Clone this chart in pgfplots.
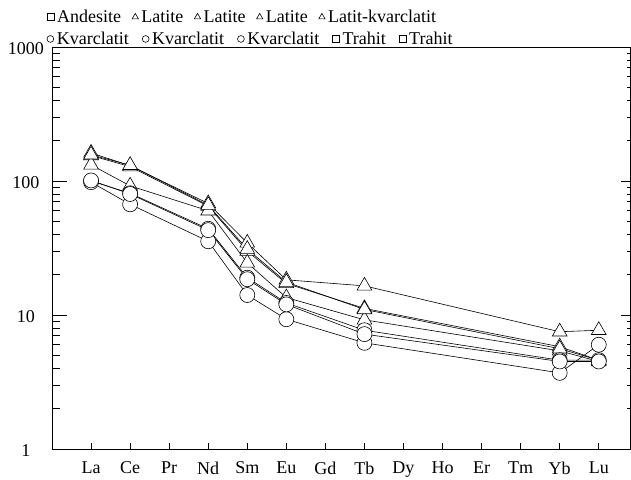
\documentclass[border=0pt]{standalone}
\usepackage{fontspec}
\setmainfont{Liberation Serif}
\usepackage{pgfplots}
\pgfplotsset{compat=1.18}
\pgfplotsset{
  tri/.style={black, line width=0.6pt, mark=triangle*, mark size=8.5pt, mark options={fill=white, draw=black, line width=0.6pt, solid}},
  cir/.style={black, line width=0.6pt, mark=*, mark size=7.5pt, mark options={fill=white, draw=black, line width=0.6pt, solid}},
  sqr/.style={black, line width=0.6pt, mark=square*, mark options={fill=white, draw=black, line width=0.6pt}},
}
\begin{document}
\begin{tikzpicture}
\useasboundingbox (-52pt,-30pt) rectangle (579pt,449pt);
% main axis: left ticks, bottom ticks, row 1 of legend
\begin{axis}[
  at={(0pt,0pt)}, anchor=south west,
  scale only axis, width=578pt, height=402pt,
  xmin=0, xmax=14.8, ymin=1, ymax=1000, ymode=log,
  axis line style={line width=0.9pt},
  tick style={line width=0.7pt, black},
  tick align=inside,
  clip=false,
  legend cell align=left,
  xtick={1,...,14},
  xticklabels={La,Ce,Pr,Nd,Sm,Eu,Gd,Tb,Dy,Ho,Er,Tm,Yb,Lu},
  xtick pos=bottom,
  xtick style={/pgfplots/major tick length=6pt},
  xticklabel style={font=\fontsize{18}{20}\selectfont, yshift=-9pt},
  ytick={1,10,100,1000},
  yticklabels={1,10,100,1000},
  minor ytick={2,3,4,5,6,7,8,9,20,30,40,50,60,70,80,90,200,300,400,500,600,700,800,900},
  ytick pos=left,
  major tick length=15pt,
  minor tick length=8pt,
  yticklabel style={font=\fontsize{18}{20}\selectfont, inner sep=0pt, text width=52pt, align=center, anchor=east, yshift=-2pt},
  legend columns=5,
  legend style={draw=none, fill=none, inner sep=0pt, anchor=west,
    at={(axis description cs:-0.009,1.0746)},
    font=\fontsize{18}{20}\selectfont,
    nodes={inner sep=0.5pt},
    /tikz/every odd column/.append style={column sep=2.5pt},
    /tikz/every even column/.append style={column sep=10.5pt}},
  legend image code/.code={\draw[#1,mark size=3.6pt,line width=0.5pt] plot coordinates {(0pt,0pt)};},
]
\addlegendimage{sqr}
\addlegendentry{Andesite}
\addplot[tri] coordinates {(1,162) (2,130) (4,68) (5,34.5) (6,18.3) (8,16.5) (13,7.5) (14,7.7)};
\addlegendentry{Latite}
\addplot[tri] coordinates {(1,155) (2,128) (4,65) (5,30) (6,17.2) (8,11.2) (13,5.8) (14,4.6)};
\addlegendentry{Latite}
\addplot[tri] coordinates {(1,132) (2,92) (4,60) (5,24.5) (6,13.5) (8,9.2) (13,5.4) (14,4.5)};
\addlegendentry{Latite}
\addplot[tri] coordinates {(1,157) (2,131) (4,66) (5,31) (6,17.6) (8,11.0) (13,5.6) (14,4.6)};
\addlegendentry{Latit-kvarclatit}
\end{axis}
% overlay axis: right ticks, row 2 of legend
\begin{axis}[
  at={(0pt,0pt)}, anchor=south west,
  scale only axis, width=578pt, height=402pt,
  xmin=0, xmax=14.8, ymin=1, ymax=1000, ymode=log,
  axis line style={line width=0.9pt},
  tick style={line width=0.7pt, black},
  tick align=inside,
  clip=false,
  legend cell align=left,
  xtick=\empty,
  ytick={1,10,100,1000},
  yticklabels={},
  minor ytick={},
  ytick pos=right,
  major tick length=9pt,
  legend columns=5,
  legend style={draw=none, fill=none, inner sep=0pt, anchor=west,
    at={(axis description cs:-0.009,1.020)},
    font=\fontsize{18}{20}\selectfont,
    nodes={inner sep=0.5pt},
    /tikz/every odd column/.append style={column sep=2.5pt},
    /tikz/every even column/.append style={column sep=13pt}},
  legend image code/.code={\draw[#1,mark size=3.4pt,line width=0.5pt] plot coordinates {(0pt,0pt)};},
]
\addplot[cir] coordinates {(1,100) (2,81) (4,44) (5,19) (6,12.3) (8,7.7) (13,4.6) (14,4.6)};
\addlegendentry{Kvarclatit}
\addplot[cir] coordinates {(1,98) (2,67) (4,35.5) (5,14.1) (6,9.3) (8,6.2) (13,3.7) (14,6.0)};
\addlegendentry{Kvarclatit}
\addplot[cir] coordinates {(1,101) (2,80) (4,43) (5,18.5) (6,12.0) (8,7.2) (13,4.5) (14,4.5)};
\addlegendentry{Kvarclatit}
\addlegendimage{sqr}
\addlegendentry{Trahit}
\addlegendimage{sqr}
\addlegendentry{Trahit}
\end{axis}
\end{tikzpicture}
\end{document}
